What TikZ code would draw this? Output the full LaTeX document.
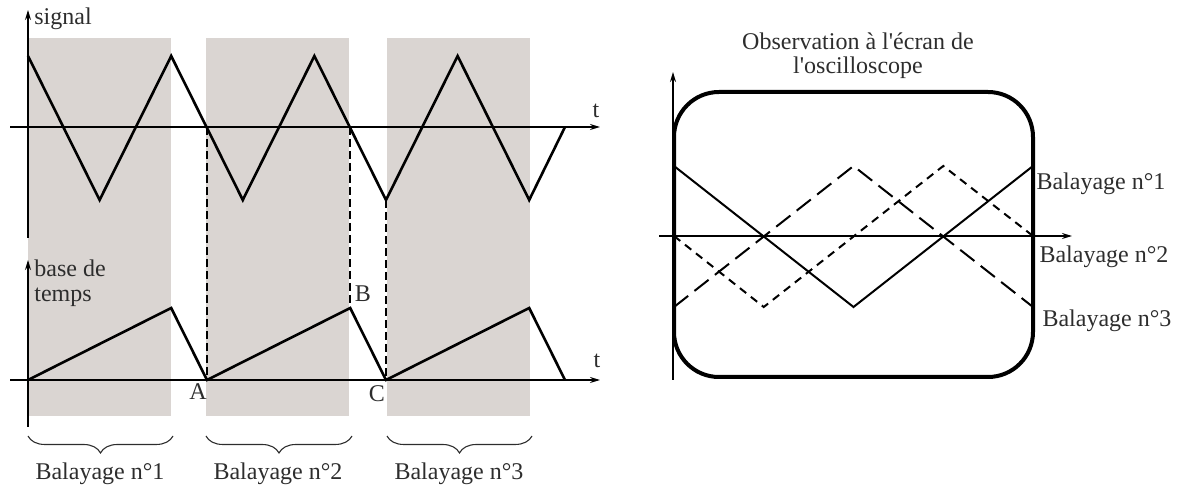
\documentclass[tikz,border=0pt]{standalone}
\usepackage{fontspec}
\setmainfont{Liberation Serif}
\usetikzlibrary{arrows.meta,decorations.pathreplacing}
\definecolor{sweepgray}{RGB}{218,213,210}
\definecolor{txt}{RGB}{45,45,45}
\begin{document}
\begin{tikzpicture}[x=0.5pt,y=-0.5pt,
  axis/.style={line width=0.7pt,-{Stealth[length=5pt,width=3pt]}},
  wave/.style={line width=1.3pt,line join=miter},
  guide/.style={line width=0.9pt,dash pattern=on 4pt off 2pt},
  lab/.style={text=txt,font=\fontsize{12}{12}\selectfont,inner sep=0pt,anchor=base},
  brc/.style={decorate,decoration={brace,amplitude=8.5pt},line width=0.55pt,draw=txt},
  screen/.style={line width=2pt,rounded corners=22.5pt},
  trace/.style={line width=1pt},
  longdash/.style={line width=1pt,dash pattern=on 9pt off 4pt},
  shortdash/.style={line width=1pt,dash pattern=on 4pt off 3pt}]
\useasboundingbox (0,0) rectangle (1180,486);

% shaded sweep intervals
\fill[sweepgray] (28,38) rectangle (171,416);
\fill[sweepgray] (206,38) rectangle (349,416);
\fill[sweepgray] (387,38) rectangle (530,416);

% signal points
\coordinate (s0) at (28,56);
\coordinate (s1) at (99.6,200);
\coordinate (s2) at (171.2,56);
\coordinate (s3) at (242.8,200);
\coordinate (s4) at (314.4,56);
\coordinate (s5) at (386,200);
\coordinate (s6) at (457.6,56);
\coordinate (s7) at (529.2,200);
\coordinate (s8) at (565,127);
% time base points
\coordinate (b0) at (28,380);
\coordinate (b1) at (171.2,308);
\coordinate (bA) at (207,380);
\coordinate (bB) at (350.2,308);
\coordinate (bC) at (386,380);
\coordinate (b5) at (529.2,308);
\coordinate (b6) at (565,380);
\coordinate (sA) at (207,127);
\coordinate (sB) at (350.2,127);

% axes (left)
\coordinate (v1a) at (28,238); \coordinate (v1b) at (28,10);
\coordinate (v2a) at (28,427); \coordinate (v2b) at (28,260);
\coordinate (h1a) at (10,127); \coordinate (h1b) at (600,127);
\coordinate (h2a) at (10,380); \coordinate (h2b) at (600,380);
\draw[axis] (v1a) -- (v1b);
\draw[axis] (v2a) -- (v2b);
\draw[axis] (h1a) -- (h1b);
\draw[axis] (h2a) -- (h2b);

% dashed guides
\draw[guide] (sA) -- (bA);
\draw[guide] (sB) -- (bB);
\draw[guide] (s5) -- (bC);

% waves
\draw[wave] (s0) -- (s1) -- (s2) -- (s3) -- (s4) -- (s5) -- (s6) -- (s7) -- (s8);
\draw[wave] (b0) -- (b1) -- (bA) -- (bB) -- (bC) -- (b5) -- (b6);

% labels (left)
\node[lab,anchor=base west] (lsig) at (34,25) {signal};
\node[lab,anchor=base west] (lbase) at (34,277) {base de};
\node[lab,anchor=base west] (ltemps) at (34,302) {temps};
\node[lab] (lt1) at (596,118) {t};
\node[lab] (lt2) at (597,368) {t};
\node[lab] (lA) at (198,400) {A};
\node[lab] (lB) at (363,302) {B};
\node[lab] (lC) at (377,402) {C};

% braces
\coordinate (r1a) at (173,436); \coordinate (r1b) at (28,436);
\coordinate (r2a) at (352,436); \coordinate (r2b) at (206,436);
\coordinate (r3a) at (532,436); \coordinate (r3b) at (387,436);
\draw[brc] (r1a) -- (r1b);
\draw[brc] (r2a) -- (r2b);
\draw[brc] (r3a) -- (r3b);
\node[lab] (lb1) at (100,480) {Balayage n°1};
\node[lab] (lb2) at (278,480) {Balayage n°2};
\node[lab] (lb3) at (459,480) {Balayage n°3};

% right: oscilloscope screen
\coordinate (p0) at (674,166);
\coordinate (p1) at (853.5,307);
\coordinate (p2) at (1033,166);
\coordinate (q0) at (674,307);
\coordinate (q1) at (853.5,166);
\coordinate (q2) at (1033,307);
\coordinate (u0) at (674,236);
\coordinate (u1) at (763.75,307);
\coordinate (u2) at (943.25,166);
\coordinate (u3) at (1033,236);
\draw[trace] (p0) -- (p1) -- (p2);
\draw[longdash] (q0) -- (q1) -- (q2);
\draw[shortdash] (u0) -- (u1) -- (u2) -- (u3);

\coordinate (sc1) at (674,92); \coordinate (sc2) at (1033,377);
\draw[screen] (sc1) rectangle (sc2);

\coordinate (rva) at (673,380); \coordinate (rvb) at (673,72);
\coordinate (rha) at (659,236); \coordinate (rhb) at (1072,236);
\draw[axis] (rva) -- (rvb);
\draw[axis] (rha) -- (rhb);

\node[lab] (title1) at (858,50) {Observation à l\textquotesingle écran de};
\node[lab] (title2) at (858,74) {l\textquotesingle oscilloscope};
\node[lab] (lr1) at (1101,190) {Balayage n°1};
\node[lab] (lr2) at (1104,263) {Balayage n°2};
\node[lab] (lr3) at (1107,327) {Balayage n°3};
\end{tikzpicture}
\end{document}
